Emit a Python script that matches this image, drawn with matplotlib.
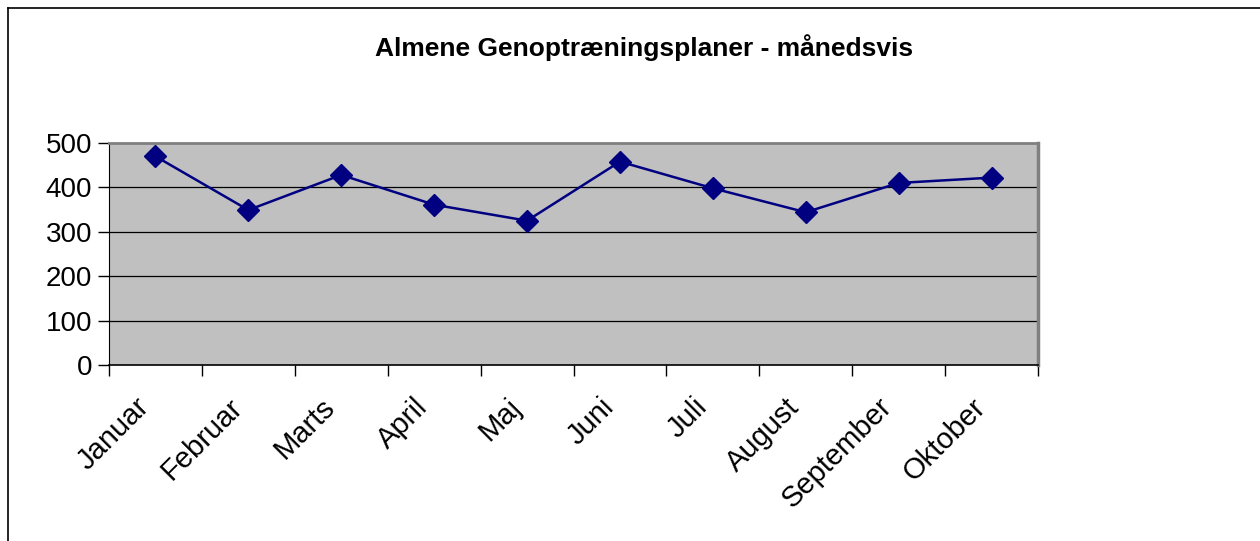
import matplotlib
matplotlib.use("Agg")
import matplotlib.pyplot as plt
from matplotlib.lines import Line2D

months = ["Januar", "Februar", "Marts", "April", "Maj", "Juni", "Juli",
          "August", "September", "Oktober"]
values = [470, 349, 428, 361, 325, 458, 398, 344, 410, 422]
yticks = [0, 100, 200, 300, 400, 500]
title = "Almene Genoptræningsplaner - månedsvis"

plt.rcParams['font.family'] = ['Liberation Sans', 'DejaVu Sans']

fig = plt.figure(figsize=(12.6, 5.41), dpi=100)
fig.patch.set_facecolor('white')

# outer chart border (left and top visible)
fig.add_artist(Line2D([8/1260, 8/1260], [0, 1 - 8/541], transform=fig.transFigure,
                      color='black', lw=1.2))
fig.add_artist(Line2D([8/1260, 1], [1 - 8/541, 1 - 8/541], transform=fig.transFigure,
                      color='black', lw=1.2))

ax = fig.add_axes([109/1260, 1 - 365/541, 929/1260, 222/541])
ax.set_facecolor('#C0C0C0')

x = list(range(len(months)))
ax.plot(x, values, color='#000080', lw=1.8, marker='D', markersize=11,
        markerfacecolor='#000080', markeredgecolor='#000080', zorder=3)

ax.set_xlim(-0.5, len(months) - 0.5)
ax.set_ylim(0, 500)
ax.set_yticks(yticks)
ax.set_yticklabels([str(v) for v in yticks], fontsize=20)

for v in yticks[1:-1]:
    ax.axhline(v, color='black', lw=0.9, zorder=1)

# ticks between categories
ax.set_xticks([i - 0.5 for i in range(len(months) + 1)])
ax.set_xticklabels([])
ax.tick_params(axis='x', direction='out', length=8, width=1, color='black')
ax.tick_params(axis='y', direction='out', length=8, width=1, color='black', pad=4)

for i, m in enumerate(months):
    ax.text(i - 0.22, -0.125, m, transform=ax.get_xaxis_transform(),
            rotation=45, ha='right', va='top', rotation_mode='anchor',
            fontsize=21)

ax.spines['left'].set_color('black')
ax.spines['bottom'].set_color('black')
ax.spines['bottom'].set_linewidth(1.2)
ax.spines['top'].set_color('#808080')
ax.spines['right'].set_color('#808080')
ax.spines['top'].set_linewidth(2)
ax.spines['right'].set_linewidth(2.5)

fig.text(644/1260, 1 - 48/541, title, ha='center', va='center',
         fontsize=19, fontweight='bold')

fig.savefig("out.png", dpi=100)
